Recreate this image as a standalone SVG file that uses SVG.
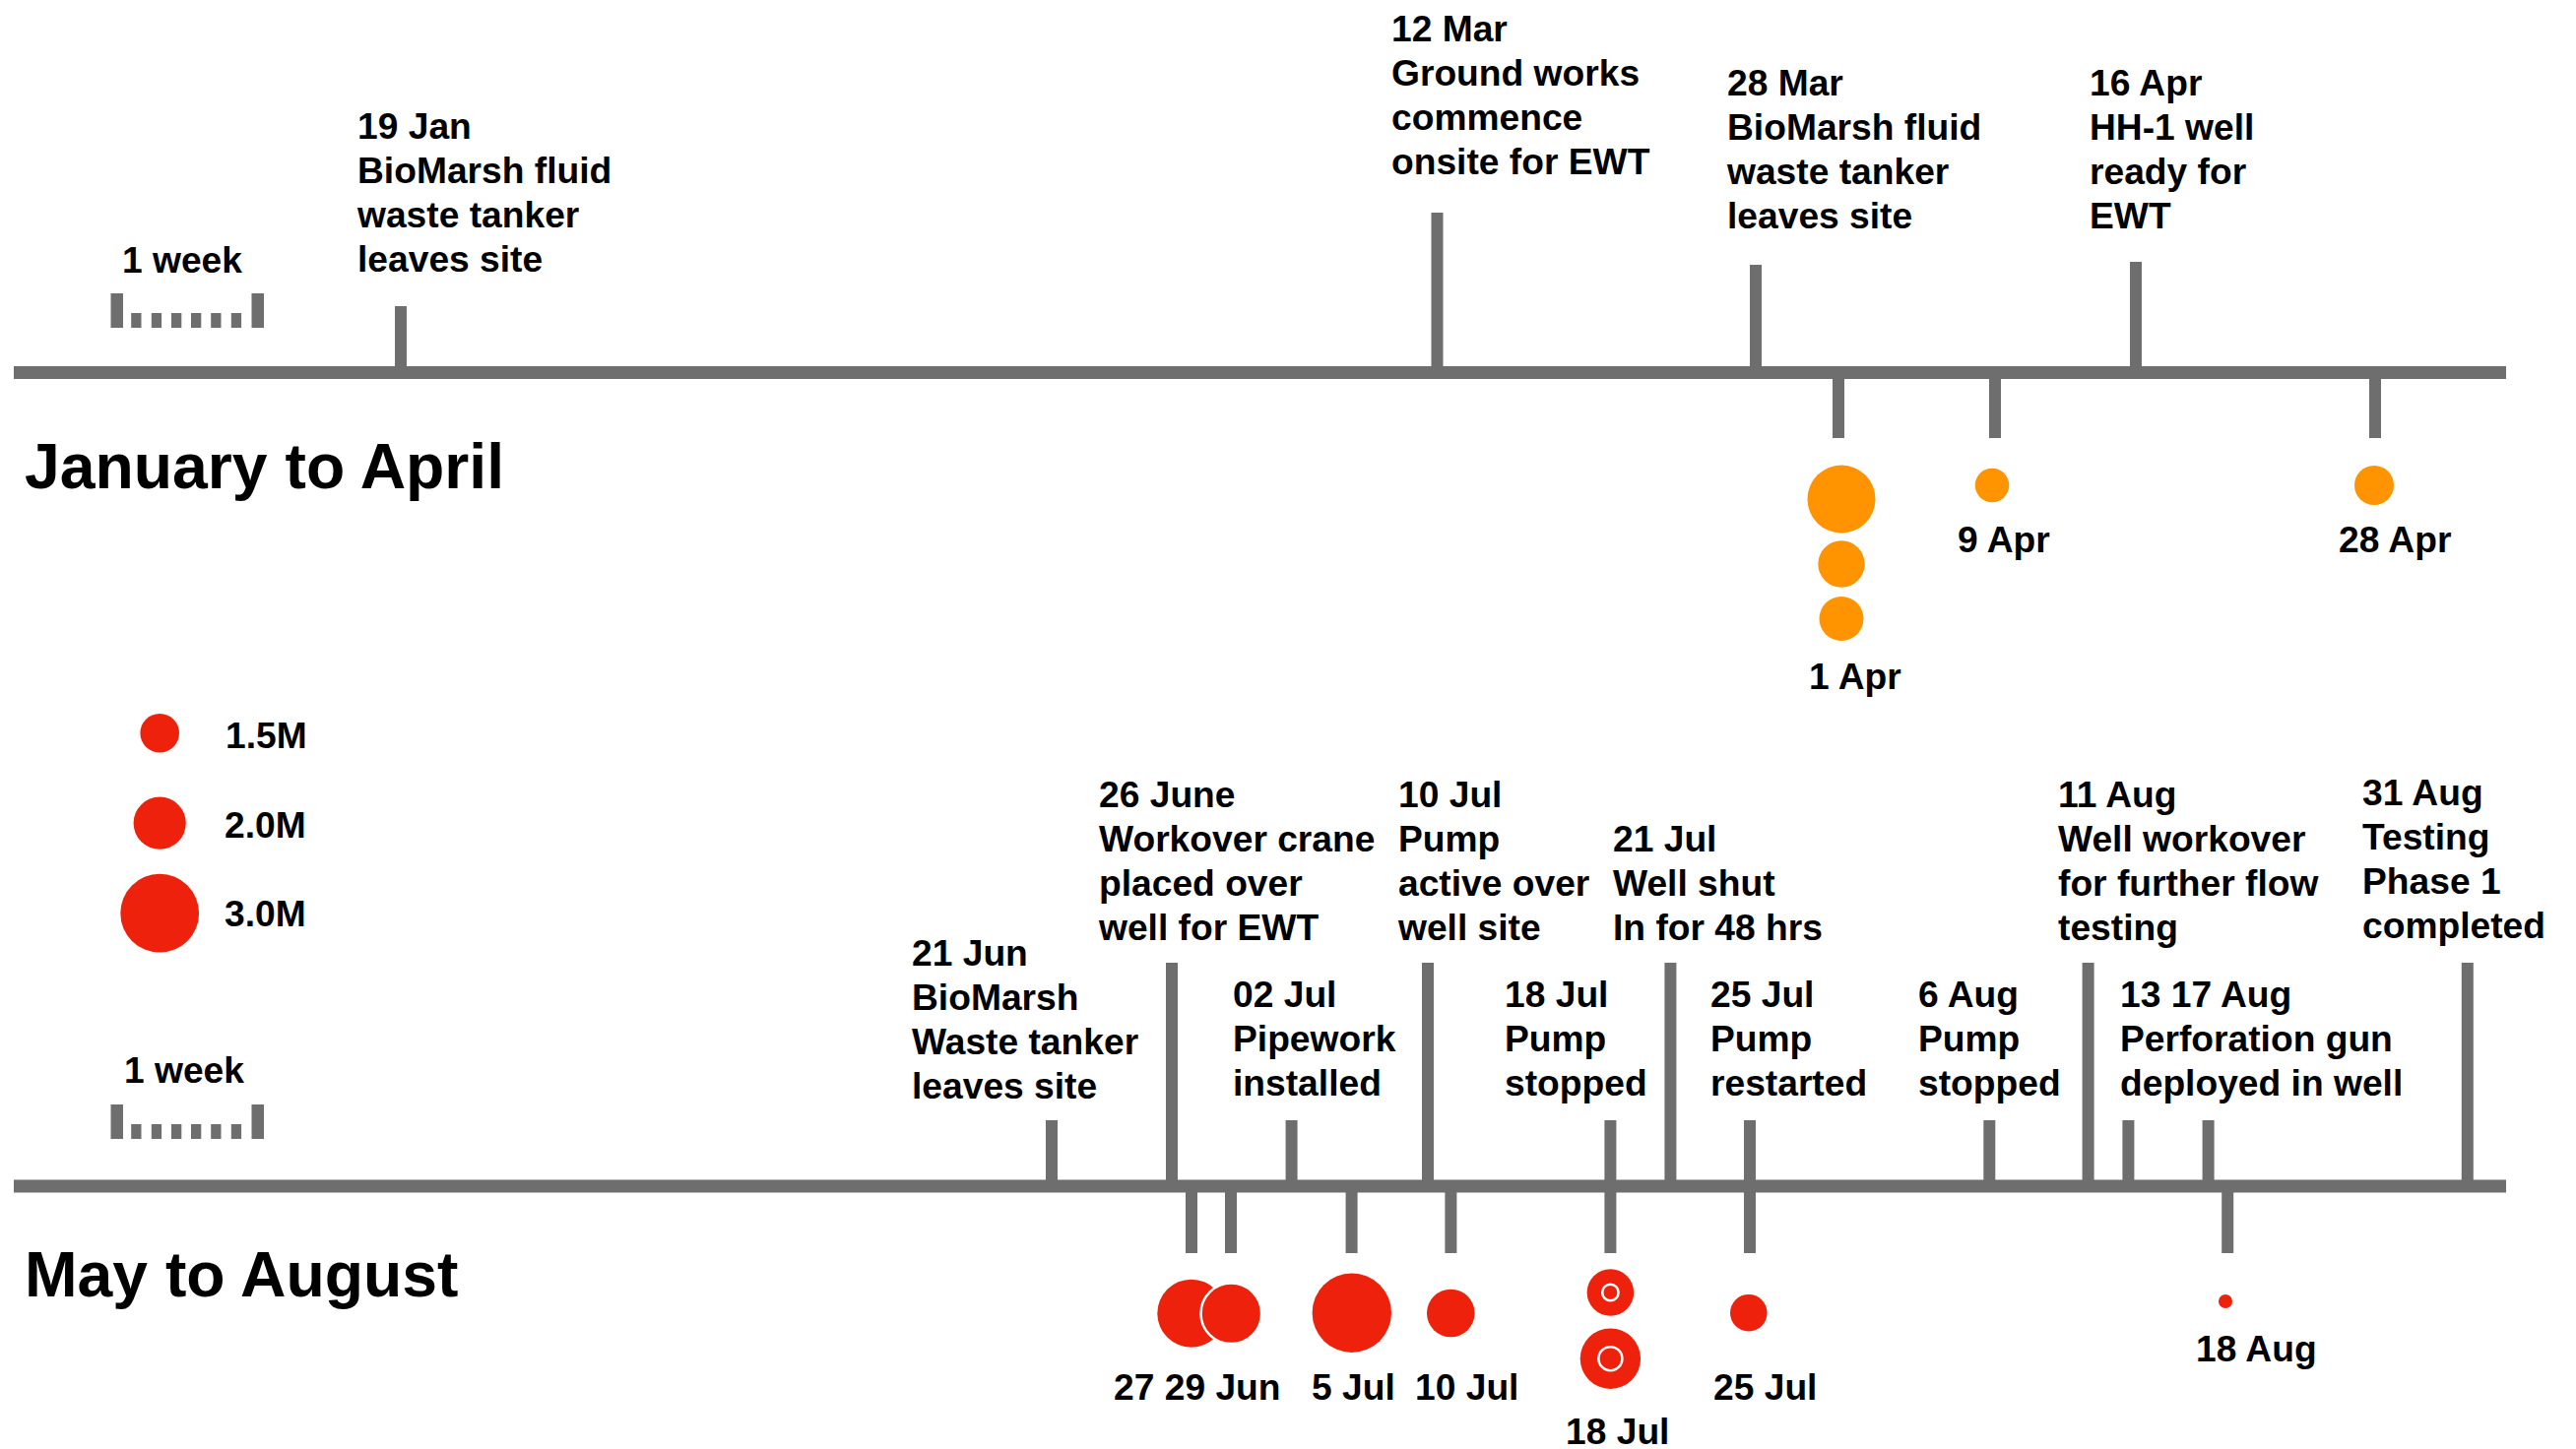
<svg xmlns="http://www.w3.org/2000/svg" width="2616" height="1472" viewBox="0 0 2616 1472">
<style>
text{font-family:"Liberation Sans",Arial,Helvetica,sans-serif;font-weight:bold;fill:#000;font-size:37.2px}
.h{font-size:64.3px}
.ax{stroke:#6e6e6e;stroke-width:13;fill:none}
.tk{stroke:#6e6e6e;stroke-width:12;fill:none}
.bar{fill:#6e6e6e}
.o{fill:#ff9300}
.r{fill:#ee220c}
.rw{fill:#ee220c;stroke:#fff;stroke-width:2.5}
.ring{fill:none;stroke:#fff;stroke-width:2.5}
</style>
<rect width="2616" height="1472" fill="#fff"/>
<g id="connectors">
<line class="ax" x1="14" y1="378.5" x2="2545" y2="378.5"/>
<line class="tk" x1="407" y1="311" x2="407" y2="378"/>
<line class="tk" x1="1459.5" y1="216" x2="1459.5" y2="378"/>
<line class="tk" x1="1783" y1="269" x2="1783" y2="378"/>
<line class="tk" x1="2169" y1="266" x2="2169" y2="378"/>
<line class="tk" x1="1867" y1="379" x2="1867" y2="445"/>
<line class="tk" x1="2026" y1="379" x2="2026" y2="445"/>
<line class="tk" x1="2412" y1="379" x2="2412" y2="445"/>
<line class="ax" x1="14" y1="1205" x2="2545" y2="1205"/>
<line class="tk" x1="1068" y1="1138" x2="1068" y2="1205"/>
<line class="tk" x1="1190" y1="978" x2="1190" y2="1205"/>
<line class="tk" x1="1311.6" y1="1138" x2="1311.6" y2="1205"/>
<line class="tk" x1="1450" y1="978" x2="1450" y2="1205"/>
<line class="tk" x1="1635.4" y1="1138" x2="1635.4" y2="1205"/>
<line class="tk" x1="1696.4" y1="978" x2="1696.4" y2="1205"/>
<line class="tk" x1="1777" y1="1138" x2="1777" y2="1205"/>
<line class="tk" x1="2020.3" y1="1138" x2="2020.3" y2="1205"/>
<line class="tk" x1="2120.6" y1="978" x2="2120.6" y2="1205"/>
<line class="tk" x1="2161.4" y1="1138" x2="2161.4" y2="1205"/>
<line class="tk" x1="2242.6" y1="1138" x2="2242.6" y2="1205"/>
<line class="tk" x1="2505.8" y1="978" x2="2505.8" y2="1205"/>
<line class="tk" x1="1210" y1="1205" x2="1210" y2="1273"/>
<line class="tk" x1="1250" y1="1205" x2="1250" y2="1273"/>
<line class="tk" x1="1372.6" y1="1205" x2="1372.6" y2="1273"/>
<line class="tk" x1="1473.4" y1="1205" x2="1473.4" y2="1273"/>
<line class="tk" x1="1635.4" y1="1205" x2="1635.4" y2="1273"/>
<line class="tk" x1="1777" y1="1205" x2="1777" y2="1273"/>
<line class="tk" x1="2262.2" y1="1205" x2="2262.2" y2="1273"/>
</g>
<defs>
<g id="scalebar">
<rect class="bar" x="112.5" y="0" width="12.5" height="35"/>
<rect class="bar" x="255.5" y="0" width="12.5" height="35"/>
<rect class="bar" x="133.2" y="20" width="10.3" height="15"/>
<rect class="bar" x="153.8" y="20" width="10.3" height="15"/>
<rect class="bar" x="174" y="20" width="10.3" height="15"/>
<rect class="bar" x="194" y="20" width="10.3" height="15"/>
<rect class="bar" x="214.2" y="20" width="10.3" height="15"/>
<rect class="bar" x="234.8" y="20" width="10.3" height="15"/>
</g>
</defs>
<g id="scale-top">
<text x="124" y="277">1 week</text>
<use href="#scalebar" y="298"/>
</g>
<g id="title-top"><text class="h" x="25" y="496">January to April</text></g>
<g id="ev-19jan"><text x="363"><tspan x="363" y="141">19 Jan</tspan><tspan x="363" y="186">BioMarsh fluid</tspan><tspan x="363" y="231">waste tanker</tspan><tspan x="363" y="276">leaves site</tspan></text></g>
<g id="ev-12mar"><text x="1413"><tspan x="1413" y="42">12 Mar</tspan><tspan x="1413" y="87">Ground works</tspan><tspan x="1413" y="132">commence</tspan><tspan x="1413" y="177">onsite for EWT</tspan></text></g>
<g id="ev-28mar"><text x="1754"><tspan x="1754" y="97">28 Mar</tspan><tspan x="1754" y="142">BioMarsh fluid</tspan><tspan x="1754" y="187">waste tanker</tspan><tspan x="1754" y="232">leaves site</tspan></text></g>
<g id="ev-16apr"><text x="2122"><tspan x="2122" y="97">16 Apr</tspan><tspan x="2122" y="142">HH-1 well</tspan><tspan x="2122" y="187">ready for</tspan><tspan x="2122" y="232">EWT</tspan></text></g>
<g id="vol-1apr">
<circle class="o" cx="1870" cy="507" r="34.5"/>
<circle class="o" cx="1870" cy="573" r="23.7"/>
<circle class="o" cx="1870" cy="628.5" r="22.5"/>
<text x="1837" y="700">1 Apr</text>
</g>
<g id="vol-9apr"><circle class="o" cx="2023" cy="493" r="17.3"/><text x="1988" y="561">9 Apr</text></g>
<g id="vol-28apr"><circle class="o" cx="2411" cy="493" r="20"/><text x="2375" y="561">28 Apr</text></g>
<g id="legend">
<circle class="r" cx="162.2" cy="744.7" r="19.8"/><text x="229" y="760">1.5M</text>
<circle class="r" cx="162.2" cy="836.2" r="26.6"/><text x="228" y="850.7">2.0M</text>
<circle class="r" cx="162.2" cy="927.7" r="39.9"/><text x="228" y="941">3.0M</text>
</g>
<g id="scale-bottom">
<text x="126" y="1100">1 week</text>
<use href="#scalebar" y="1122"/>
</g>
<g id="title-bottom"><text class="h" x="25" y="1317">May to August</text></g>
<g id="ev-21jun"><text x="926"><tspan x="926" y="981">21 Jun</tspan><tspan x="926" y="1026">BioMarsh</tspan><tspan x="926" y="1071">Waste tanker</tspan><tspan x="926" y="1116">leaves site</tspan></text></g>
<g id="ev-26jun"><text x="1116"><tspan x="1116" y="820">26 June</tspan><tspan x="1116" y="865">Workover crane</tspan><tspan x="1116" y="910">placed over</tspan><tspan x="1116" y="955">well for EWT</tspan></text></g>
<g id="ev-02jul"><text x="1252"><tspan x="1252" y="1023">02 Jul</tspan><tspan x="1252" y="1068">Pipework</tspan><tspan x="1252" y="1113">installed</tspan></text></g>
<g id="ev-10jul"><text x="1420"><tspan x="1420" y="820">10 Jul</tspan><tspan x="1420" y="865">Pump</tspan><tspan x="1420" y="910">active over</tspan><tspan x="1420" y="955">well site</tspan></text></g>
<g id="ev-18jul"><text x="1528"><tspan x="1528" y="1023">18 Jul</tspan><tspan x="1528" y="1068">Pump</tspan><tspan x="1528" y="1113">stopped</tspan></text></g>
<g id="ev-21jul"><text x="1638"><tspan x="1638" y="865">21 Jul</tspan><tspan x="1638" y="910">Well shut</tspan><tspan x="1638" y="955">In for 48 hrs</tspan></text></g>
<g id="ev-25jul"><text x="1737"><tspan x="1737" y="1023">25 Jul</tspan><tspan x="1737" y="1068">Pump</tspan><tspan x="1737" y="1113">restarted</tspan></text></g>
<g id="ev-6aug"><text x="1948"><tspan x="1948" y="1023">6 Aug</tspan><tspan x="1948" y="1068">Pump</tspan><tspan x="1948" y="1113">stopped</tspan></text></g>
<g id="ev-11aug"><text x="2090"><tspan x="2090" y="820">11 Aug</tspan><tspan x="2090" y="865">Well workover</tspan><tspan x="2090" y="910">for further flow</tspan><tspan x="2090" y="955">testing</tspan></text></g>
<g id="ev-13-17aug"><text x="2153"><tspan x="2153" y="1023">13 17 Aug</tspan><tspan x="2153" y="1068">Perforation gun</tspan><tspan x="2153" y="1113">deployed in well</tspan></text></g>
<g id="ev-31aug"><text x="2399"><tspan x="2399" y="818">31 Aug</tspan><tspan x="2399" y="863">Testing</tspan><tspan x="2399" y="908">Phase 1</tspan><tspan x="2399" y="953">completed</tspan></text></g>
<g id="vol-27-29jun">
<circle class="r" cx="1209.8" cy="1334.2" r="34.5"/>
<circle class="rw" cx="1250.3" cy="1334.3" r="30.8"/>
<text x="1131" y="1422">27 29 Jun</text>
</g>
<g id="vol-5jul"><circle class="r" cx="1372.8" cy="1333.7" r="40.2"/><text x="1332" y="1422">5 Jul</text></g>
<g id="vol-10jul"><circle class="r" cx="1473.3" cy="1334" r="24.3"/><text x="1437" y="1422">10 Jul</text></g>
<g id="vol-18jul">
<circle class="r" cx="1635.4" cy="1313" r="23.8"/>
<circle class="ring" cx="1635.4" cy="1313" r="8.2"/>
<circle class="r" cx="1635.4" cy="1380.2" r="30.7"/>
<circle class="ring" cx="1635.4" cy="1380.2" r="12"/>
<text x="1590" y="1467">18 Jul</text>
</g>
<g id="vol-25jul"><circle class="r" cx="1775.8" cy="1333.7" r="18.8"/><text x="1740" y="1422">25 Jul</text></g>
<g id="vol-18aug"><circle class="r" cx="2260" cy="1322" r="7"/><text x="2230" y="1383">18 Aug</text></g>
</svg>
